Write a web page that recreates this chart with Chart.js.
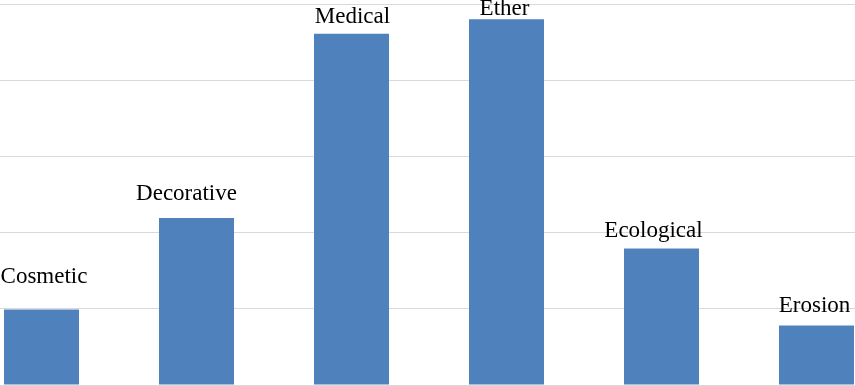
<!DOCTYPE html>
<html>
<head>
<meta charset="utf-8">
<script src="https://cdn.jsdelivr.net/npm/chart.js@4/dist/chart.umd.min.js"></script>
<style>
html,body{margin:0;padding:0;background:#fff;overflow:hidden;width:855px;height:386px;}
#wrap{position:absolute;left:-36px;top:0;width:930px;height:386px;}
</style>
</head>
<body>
<div id="wrap"><canvas id="c"></canvas></div>
<script>
const categories = ["Cosmetic", "Decorative", "Medical", "Ether", "Ecological", "Erosion"];
const values = [9.9, 21.9, 46.1, 48.0, 17.9, 7.8];
const yTicks = [0, 10, 20, 30, 40, 50];

// label placement styling (pixel nudges relative to bar top centre)
const labelDx = [2.5, -10, 1, -2, -8, -2];
const labelGap = [27, 18, 11, 4, 12, 14];
const LABEL_FONT = '23px "Liberation Serif", "Times New Roman", serif';

const labelPlugin = {
  id: 'barLabels',
  afterDatasetsDraw(chart) {
    const ctx = chart.ctx;
    const meta = chart.getDatasetMeta(0);
    ctx.save();
    ctx.font = LABEL_FONT;
    ctx.fillStyle = '#000';
    ctx.textAlign = 'center';
    ctx.textBaseline = 'alphabetic';
    meta.data.forEach((bar, i) => {
      ctx.fillText(categories[i], bar.x + labelDx[i], bar.y - labelGap[i]);
    });
    ctx.restore();
  }
};

new Chart(document.getElementById('c'), {
  type: 'bar',
  data: {
    labels: categories,
    datasets: [{
      data: values,
      backgroundColor: '#4f81bd',
      borderWidth: 0,
      barPercentage: 1,
      categoryPercentage: 0.484
    }]
  },
  options: {
    responsive: true,
    maintainAspectRatio: false,
    animation: false,
    layout: { padding: { top: 4, bottom: 1, left: 0, right: 0 } },
    plugins: { legend: { display: false }, tooltip: { enabled: false } },
    scales: {
      x: { display: false },
      y: {
        min: yTicks[0],
        max: yTicks[yTicks.length - 1],
        afterBuildTicks(scale) { scale.ticks = yTicks.map(v => ({ value: v })); },
        ticks: { display: false },
        grid: { color: '#d9d9d9', lineWidth: 1, drawTicks: false },
        border: { display: false }
      }
    }
  },
  plugins: [labelPlugin]
});
</script>
</body>
</html>
